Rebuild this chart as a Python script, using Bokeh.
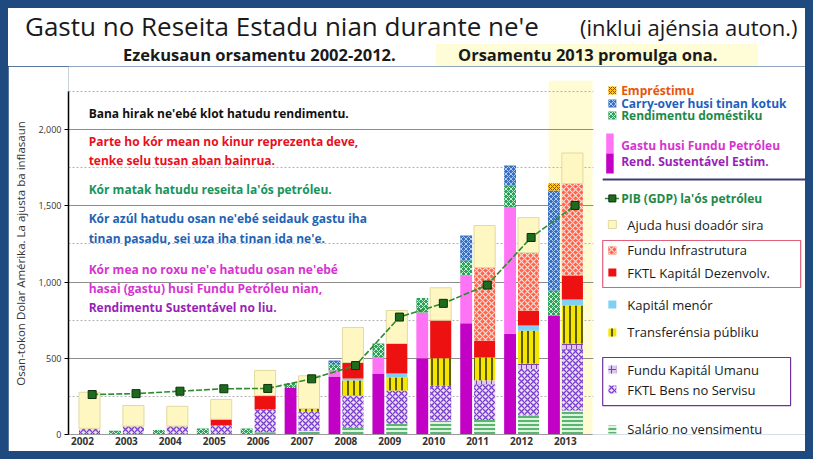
import numpy as np
from bokeh.plotting import figure
from bokeh.layouts import column
from bokeh.models import Range1d, FixedTicker, NumeralTickFormatter, Div
from bokeh.core.properties import value
from bokeh.embed import file_html
from bokeh.resources import INLINE

# ---------------- data (US$ million) ----------------
years = ["2002", "2003", "2004", "2005", "2006", "2007", "2008", "2009", "2010", "2011", "2012", "2013"]

# revenue bar (left)
rev_esi       = [0, 0, 0, 0, 0, 305, 380, 400, 500, 730, 660, 780]
rev_excess    = [0, 0, 0, 0, 0, 0, 40, 105, 300, 313, 830, 0]
rev_domestic  = [0, 25, 30, 40, 40, 32, 40, 92, 95, 98, 143, 164]
rev_carryover = [0, 0, 0, 0, 0, 0, 25, 0, 0, 164, 131, 656]
rev_loans     = [0, 0, 0, 0, 0, 0, 0, 0, 0, 0, 0, 46]

# expenditure bar (right)
exp_salary    = [0, 0, 0, 0, 15, 25, 45, 70, 90, 95, 125, 157]
exp_goods     = [40, 55, 55, 60, 150, 125, 211, 219, 230, 235, 305, 400]
exp_hcf       = [0, 0, 0, 0, 0, 0, 0, 0, 0, 25, 35, 40]
exp_transfers = [0, 0, 0, 0, 0, 20, 98, 85, 180, 150, 216, 249]
exp_minorcap  = [0, 0, 0, 0, 0, 0, 13, 26, 0, 0, 33, 39]
exp_capdev    = [0, 0, 0, 40, 90, 0, 105, 197, 250, 110, 98, 158]
exp_infra     = [0, 0, 0, 0, 0, 0, 0, 0, 0, 480, 380, 603]
exp_donor     = [237, 135, 130, 130, 165, 215, 230, 216, 212, 275, 230, 200]

gdp_nonoil    = [262, 268, 284, 300, 302, 365, 452, 770, 860, 980, 1292, 1502]

y_ticks = [0, 500, 1000, 1500, 2000]

title_main = "Gastu no Reseita Estadu nian durante ne'e"
title_note = "(inklui ajénsia auton.)"
subtitle_left = "Ezekusaun orsamentu 2002-2012."
subtitle_right = "Orsamentu 2013 promulga ona."

notes = [
    "Bana hirak ne'ebé klot hatudu rendimentu.",
    "Parte ho kór mean no kinur reprezenta deve,",
    "tenke selu tusan aban bainrua.",
    "Kór matak hatudu reseita la'ós petróleu.",
    "Kór azúl hatudu osan ne'ebé seidauk gastu iha",
    "tinan pasadu, sei uza iha tinan ida ne'e.",
    "Kór mea no roxu ne'e hatudu osan ne'ebé",
    "hasai (gastu) husi Fundu Petróleu nian,",
    "Rendimentu Sustentável no liu.",
]
note_colors = ["#111111", "#e8101e", "#e8101e", "#17945a", "#1f63b5", "#1f63b5",
               "#d634d0", "#d634d0", "#9a1fb8"]
note_y = [2105, 1921, 1797, 1607, 1416, 1285, 1082, 957, 833]

n = len(years)
idx = np.arange(n, dtype=float)
PY = 0.1525          # pixels per US$ million

# ---------------- title strip (HTML) ----------------
title_html = f"""
<div style="position:relative;width:797px;height:58px;background:#ffffff;overflow:hidden;
            font-family:'Open Sans',sans-serif;color:#1a1a1a;">
  <div style="position:absolute;left:428px;top:36px;width:322px;height:22px;background:#fffcd8;"></div>
  <div style="position:absolute;left:17px;top:5px;height:26px;font-size:26px;line-height:26px;white-space:nowrap;">{title_main}</div>
  <div style="position:absolute;left:572px;top:8px;height:22px;font-size:22px;line-height:22px;white-space:nowrap;">{title_note}</div>
  <div style="position:absolute;left:115px;top:39px;height:16px;font-size:16.5px;line-height:16.5px;font-weight:bold;white-space:nowrap;">{subtitle_left}</div>
  <div style="position:absolute;left:450px;top:39px;height:16px;font-size:16.5px;line-height:16.5px;font-weight:bold;white-space:nowrap;">{subtitle_right}</div>
</div>
"""
t = Div(text=title_html, width=797, height=58, margin=(0, 0, 0, 0))

# ---------------- main chart ----------------
p = figure(width=797, height=385, output_backend="svg", toolbar_location=None,
           x_range=Range1d(-0.319, 16.47), y_range=Range1d(0, 368 / PY),
           min_border_left=60, min_border_right=0, min_border_top=0, min_border_bottom=17,
           background_fill_color="white", border_fill_color="white",
           outline_line_color=None)

p.yaxis.ticker = FixedTicker(ticks=y_ticks, minor_ticks=[250, 750, 1250, 1750, 2250])
p.yaxis.formatter = NumeralTickFormatter(format="0,0")
p.yaxis.bounds = (0, 2250)
p.yaxis.axis_line_color = "#000000"
p.yaxis.axis_line_width = 1.5
p.yaxis.major_tick_out = 4
p.yaxis.major_tick_in = 0
p.yaxis.minor_tick_out = 0
p.yaxis.minor_tick_in = 0
p.yaxis.major_label_standoff = 3
p.yaxis.major_label_text_font = "Open Sans"
p.yaxis.major_label_text_font_size = "9px"
p.yaxis.major_label_text_color = "#333333"
p.yaxis.axis_label = "Osan-tokon Dolar Amérika.   La ajusta ba inflasaun"
p.yaxis.axis_label_text_font = "Open Sans"
p.yaxis.axis_label_text_font_size = "11.5px"
p.yaxis.axis_label_text_font_style = "normal"
p.yaxis.axis_label_text_color = "#333333"
p.yaxis.axis_label_standoff = 8

p.xaxis.ticker = FixedTicker(ticks=list(range(n)))
p.xaxis.major_label_overrides = {i: y for i, y in enumerate(years)}
p.xaxis.bounds = (-0.319, 11.62)
p.xaxis.axis_line_color = "#999999"
p.xaxis.major_tick_out = 0
p.xaxis.major_tick_in = 0
p.xaxis.minor_tick_out = 0
p.xaxis.minor_tick_in = 0
p.xaxis.major_label_standoff = 2
p.xaxis.major_label_text_font = "Open Sans"
p.xaxis.major_label_text_font_size = "10px"
p.xaxis.major_label_text_font_style = "bold"
p.xaxis.major_label_text_color = "#333333"

p.xgrid.grid_line_color = None
p.ygrid.grid_line_color = "#8c8c8c"
p.ygrid.grid_line_width = 1
p.ygrid.minor_grid_line_color = "#b5b5b5"
p.ygrid.minor_grid_line_dash = "2 2"

# 2013 budget highlight column
p.quad(left=[10.62], right=[11.62], bottom=[0], top=[2320], fill_color="#fffbd2",
       line_color=None, level="image")

# white legend panel covering grid lines
p.quad(left=[11.64], right=[16.5], bottom=[0], top=[2300], fill_color="white", line_color=None)

def stack(xpos, width, layers):
    bottom = np.zeros(n)
    for vals, style in layers:
        vals = np.array(vals, dtype=float)
        top = bottom + vals
        m = vals > 0
        p.vbar(x=xpos[m], bottom=bottom[m], top=top[m], width=width, **style)
        bottom = top

rev_layers = [
    (rev_esi, dict(fill_color="#c200c6", line_color=None)),
    (rev_excess, dict(fill_color="#ff73f5", line_color=None)),
    (rev_domestic, dict(fill_color="#2f9f5c", hatch_pattern="x", hatch_color="#c9f0d4",
                        hatch_scale=5, hatch_weight=1, line_color=None)),
    (rev_carryover, dict(fill_color="#3a6fc0", hatch_pattern="x", hatch_color="#b0cdf2",
                         hatch_scale=5, hatch_weight=1, line_color=None)),
    (rev_loans, dict(fill_color="#ffd000", hatch_pattern="x", hatch_color="#a04a00",
                     hatch_scale=4, hatch_weight=1, line_color=None)),
]
stack(idx - 0.26, 0.27, rev_layers)

exp_layers = [
    (exp_salary, dict(fill_color="#dcf5dc", hatch_pattern="-", hatch_color="#2ea050",
                      hatch_scale=4, hatch_weight=1.5, line_color=None)),
    (exp_goods, dict(fill_color="#eadcff", hatch_pattern="x", hatch_color="#7a40c8",
                     hatch_scale=6, hatch_weight=1.3, line_color=None)),
    (exp_hcf, dict(fill_color="#dcc6f2", hatch_pattern="+", hatch_color="#8040b0",
                   hatch_scale=5, hatch_weight=1, line_color=None)),
    (exp_transfers, dict(fill_color="#f5e600", hatch_pattern="|", hatch_color="#2a2a00",
                         hatch_scale=6, hatch_weight=1.5, line_color=None)),
    (exp_minorcap, dict(fill_color="#7fd0f2", line_color=None)),
    (exp_capdev, dict(fill_color="#ee1111", line_color=None)),
    (exp_infra, dict(fill_color="#ff6248", hatch_pattern="x", hatch_color="#ffd9cf",
                     hatch_scale=6, hatch_weight=1.2, line_color=None)),
    (exp_donor, dict(fill_color="#fff7c2", line_color="#e2d9a0", line_width=1)),
]
stack(idx + 0.16, 0.48, exp_layers)

# non-oil GDP
p.line(x=idx + 0.22, y=gdp_nonoil, line_color="#2e8b2e", line_width=1.6, line_dash="6 2")
p.scatter(x=idx + 0.22, y=gdp_nonoil, marker="square", size=8,
          fill_color="#1e6b1e", line_color="#0a300a")

# explanatory notes
p.text(x=[0.14] * len(notes), y=note_y, text=notes, text_color=note_colors,
       text_font=value("Open Sans"), text_font_size="12px", text_font_style="bold",
       text_baseline="middle", text_align="left")

# ---------------- legend ----------------
mx, tx = 12.07, 12.27
top_items = [
    ("Empréstimu", 2256, "#e8550a", rev_layers[4][1]),
    ("Carry-over husi tinan kotuk", 2170, "#1f5fbf", rev_layers[3][1]),
    ("Rendimentu doméstiku", 2092, "#1d8a48", rev_layers[2][1]),
]
for txt, yy, col, st in top_items:
    p.rect(x=[mx], y=[yy], width=8, height=8, width_units="screen", height_units="screen", **st)
    p.text(x=[tx], y=[yy], text=[txt], text_color=col, text_font=value("Open Sans"),
           text_font_size="12px", text_font_style="bold", text_baseline="middle")

p.quad(left=[11.93], right=[12.1], bottom=[1843], top=[1974], fill_color="#ff73f5", line_color=None)
p.quad(left=[11.93], right=[12.1], bottom=[1711], top=[1843], fill_color="#c200c6", line_color=None)
p.text(x=[tx, tx], y=[1895, 1790], text=["Gastu husi Fundu Petróleu", "Rend. Sustentável Estim."],
       text_color=["#d634d0", "#9a1fb8"], text_font=value("Open Sans"),
       text_font_size="12px", text_font_style="bold", text_baseline="middle")
p.segment(x0=[11.85], y0=[1672], x1=[16.47], y1=[1672], line_color="#3a3a7a", line_width=2)

p.segment(x0=[11.9], y0=[1548], x1=[12.22], y1=[1548], line_color="#2e8b2e", line_width=1.6)
p.scatter(x=[mx], y=[1548], marker="square", size=7, fill_color="#1e6b1e", line_color="#0a300a")
p.text(x=[tx], y=[1548], text=["PIB (GDP) la'ós petróleu"], text_color="#1d8a48",
       text_font=value("Open Sans"), text_font_size="12px", text_font_style="bold",
       text_baseline="middle")

lower_items = [
    ("Ajuda husi doadór sira", 1377, exp_layers[7][1]),
    ("Fundu Infrastrutura", 1207, exp_layers[6][1]),
    ("FKTL Kapitál Dezenvolv.", 1062, exp_layers[5][1]),
    ("Kapitál menór", 852, exp_layers[4][1]),
    ("Transferénsia públiku", 669, exp_layers[3][1]),
    ("Fundu Kapitál Umanu", 426, exp_layers[2][1]),
    ("FKTL Bens no Servisu", 295, exp_layers[1][1]),
    ("Salário no vensimentu", 33, exp_layers[0][1]),
]
for txt, yy, st in lower_items:
    p.rect(x=[mx], y=[yy], width=8, height=8, width_units="screen", height_units="screen", **st)
    p.text(x=[12.41], y=[yy], text=[txt], text_color="#1a1a1a", text_font=value("Open Sans"),
           text_font_size="13px", text_baseline="middle")

p.quad(left=[11.85], right=[16.36], bottom=[964], top=[1272], fill_color=None,
       line_color="#e0607a", line_width=1.2)
p.quad(left=[11.85], right=[16.13], bottom=[190], top=[505], fill_color=None,
       line_color="#7030a0", line_width=1.2)

layout = column(t, p, spacing=0)

html = file_html(layout, INLINE)
css = ("<style>html, body { background-color: #1f4a7f !important; } "
       "body { padding: 8px !important; margin: 0 !important; }</style>")
if "</head>" in html:
    html = html.replace("</head>", css + "\n</head>", 1)
else:
    html = css + html
open("out.html", "w", encoding="utf-8").write(html)
